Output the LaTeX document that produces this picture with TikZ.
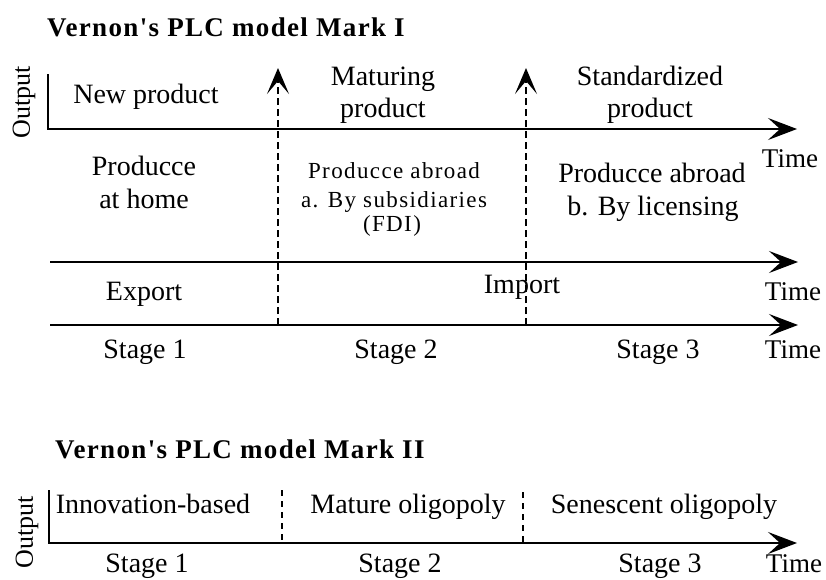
\documentclass[tikz,border=0pt]{standalone}
\usepackage{fontspec}
\setmainfont{Liberation Serif}
\newfontfamily\spacedfont{Liberation Serif}[LetterSpace=6]
\newfontfamily\titlefont{Liberation Serif}[LetterSpace=5]
\usetikzlibrary{arrows.meta}

\tikzset{
  lbl/.style={inner sep=0pt, anchor=base, font=\fontsize{28}{33}\selectfont},
  small/.style={inner sep=0pt, anchor=base, font=\spacedfont\fontsize{23}{28}\selectfont},
  timelbl/.style={inner sep=0pt, anchor=base, font=\fontsize{27}{32}\selectfont},
  ttl/.style={inner sep=0pt, anchor=base west, font=\titlefont\bfseries\fontsize{27}{31}\selectfont},
  ylbl/.style={inner sep=0pt, rotate=90, font=\fontsize{26}{30}\selectfont},
  axis/.style={line width=2pt, line join=miter, -{Stealth[length=29pt,width=22pt,inset=12pt]}},
  divider/.style={line width=1.5pt, dash pattern=on 7pt off 4pt},
  thindivider/.style={line width=1.2pt, dash pattern=on 6pt off 5pt},
  uparrow/.style={divider, -{Stealth[length=26pt,width=22pt,inset=13pt]}},
}

\begin{document}
\begin{tikzpicture}[x=1pt,y=-1pt]
\useasboundingbox (0,0) rectangle (826,579);

% ---------- Mark I ----------
\node[ttl] (title1) at (47,36) {Vernon's PLC model Mark I};
\node[ylbl] (out1) at (24,102) {Output};

\coordinate (y1top) at (48,74);
\coordinate (o1) at (48,129);
\coordinate (x1end) at (797,129);
\draw[axis] (y1top) -- (o1) -- (x1end);

\coordinate (a2start) at (50,262);
\coordinate (a2end) at (798,262);
\draw[axis] (a2start) -- (a2end);

\coordinate (a3start) at (50,325);
\coordinate (a3end) at (798,325);
\draw[axis] (a3start) -- (a3end);

% stage boundaries
\coordinate (d1bot) at (278,325);
\coordinate (d1top) at (278,68);
\coordinate (d2bot) at (526,325);
\coordinate (d2top) at (526,68);
\draw[uparrow] (d1bot) -- (d1top);
\draw[uparrow] (d2bot) -- (d2top);

% product phases
\node[lbl] (newprod) at (146,103) {New product};
\node[lbl] (mat1) at (383,85) {Maturing};
\node[lbl] (mat2) at (383,117) {product};
\node[lbl] (std1) at (650,85) {Standardized};
\node[lbl] (std2) at (650,117) {product};
\node[timelbl] (time1) at (790,167) {Time};

% production location
\node[lbl] (home1) at (144,175) {Producce};
\node[lbl] (home2) at (144,208) {at home};
\node[small] (abr1) at (394,178) {Producce abroad};
\node[small] (abr2) at (394,207) {a. By subsidiaries};
\node[small] (abr3) at (392,231) {(FDI)};
\node[lbl] (lic1) at (652,182) {Producce abroad};
\node[lbl] (lic2) at (653,215) {b. By licensing};

% trade
\node[lbl] (export) at (144,300) {Export};
\node[lbl] (import) at (522,293) {Import};
\node[timelbl] (time2) at (793,300) {Time};

% stages
\node[lbl] (st1) at (145,358) {Stage 1};
\node[lbl] (st2) at (396,358) {Stage 2};
\node[lbl] (st3) at (658,358) {Stage 3};
\node[timelbl] (time3) at (793,358) {Time};

% ---------- Mark II ----------
\node[ttl] (title2) at (55,458) {Vernon's PLC model Mark II};
\node[ylbl] (out2) at (27,532) {Output};

\coordinate (y2top) at (49,490);
\coordinate (o2) at (49,543);
\coordinate (x2end) at (797,543);
\draw[axis] (y2top) -- (o2) -- (x2end);

\coordinate (e1top) at (282,490);
\coordinate (e1bot) at (282,543);
\coordinate (e2top) at (523,492);
\coordinate (e2bot) at (523,543);
\draw[thindivider] (e1top) -- (e1bot);
\draw[thindivider] (e2top) -- (e2bot);

\node[lbl] (innov) at (153,513) {Innovation-based};
\node[lbl] (mature) at (408,513) {Mature oligopoly};
\node[lbl] (senesc) at (664,513) {Senescent oligopoly};

\node[lbl] (bst1) at (147,572) {Stage 1};
\node[lbl] (bst2) at (400,572) {Stage 2};
\node[lbl] (bst3) at (660,572) {Stage 3};
\node[timelbl] (time4) at (794,572) {Time};
\end{tikzpicture}
\end{document}
